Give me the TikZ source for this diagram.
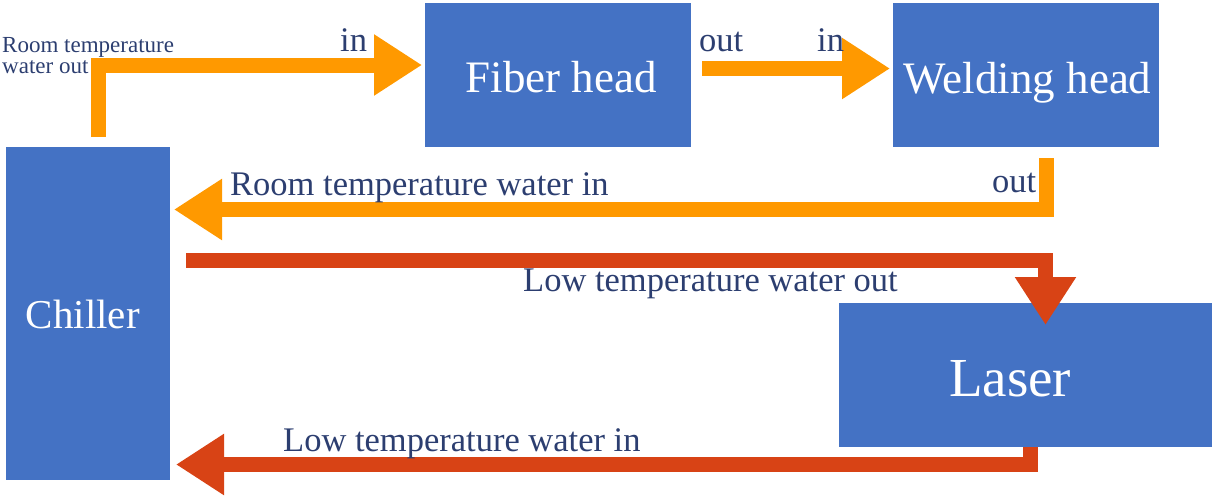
\documentclass[tikz,border=0pt]{standalone}
\usepackage{fontspec}
\setmainfont{Liberation Serif}
\usetikzlibrary{arrows.meta}
\definecolor{boxblue}{HTML}{4472C4}
\definecolor{pipeorange}{HTML}{FF9900}
\definecolor{pipered}{HTML}{D84315}
\definecolor{labelnavy}{HTML}{2C3E70}
\begin{document}
\begin{tikzpicture}[x=1pt,y=-1pt,
  unit/.style={fill=boxblue, text=white, inner sep=0pt, anchor=north west,
    text depth=0pt},
  pipe/.style={line width=15pt, line join=miter,
    -{Triangle[width=58pt,length=48pt]}},
  warm/.style={pipe, draw=pipeorange},
  cold/.style={pipe, draw=pipered},
  lbl/.style={text=labelnavy, inner sep=0pt, anchor=base west,
    font=\fontsize{34.5}{40}\selectfont}]
\useasboundingbox (0,0) rectangle (1218,496);

% units
\node[unit, minimum width=266pt, minimum height=144pt, text height=34.7pt,
  font=\fontsize{45}{50}\selectfont] (fiber) at (425,3)
  {\hspace*{6pt}Fiber head};
\node[unit, minimum width=266pt, minimum height=144pt, text height=36pt,
  font=\fontsize{45}{50}\selectfont] (weld) at (893,3)
  {\hspace*{3pt}Welding head};
\node[unit, minimum width=164pt, minimum height=333pt, text height=29pt,
  font=\fontsize{41}{46}\selectfont] (chiller) at (6,147)
  {Chiller\hspace*{11pt}};
\node[unit, minimum width=373pt, minimum height=144pt, text height=42pt,
  font=\fontsize{55}{60}\selectfont] (laser) at (839,303)
  {Laser\hspace*{31pt}};

% connector points
\coordinate (a1s) at (98.5,137);
\coordinate (a1c) at (98.5,65);
\coordinate (a1e) at (422,65);
\coordinate (a2s) at (702,68.5);
\coordinate (a2e) at (890,68.5);
\coordinate (a3s) at (1046,158);
\coordinate (a3c) at (1046,209.5);
\coordinate (a3e) at (174,209.5);
\coordinate (a4s) at (186,260.5);
\coordinate (a4c) at (1045.5,260.5);
\coordinate (a4e) at (1045.5,325);
\coordinate (a5s) at (1030,447);
\coordinate (a5c) at (1030,464.5);
\coordinate (a5e) at (176,464.5);

% pipes
\draw[warm] (a1s) -- (a1c) -- (a1e);
\draw[warm] (a2s) -- (a2e);
\draw[warm] (a3s) -- (a3c) -- (a3e);
\draw[cold] (a4s) -- (a4c) -- (a4e);
\draw[cold] (a5s) -- (a5c) -- (a5e);

% labels
\node[text=labelnavy, inner sep=0pt, anchor=north west, align=left,
  font=\fontsize{23}{21}\selectfont] (rtout) at (2,36.8)
  {Room temperature\\water out};
\node[lbl] (in1) at (340,51) {in};
\node[lbl] (out1) at (699,51) {out};
\node[lbl] (in2) at (817,51) {in};
\node[lbl] (rtin) at (230,195) {Room temperature water in};
\node[lbl] (out2) at (992,192) {out};
\node[lbl] (ltout) at (523,291) {Low temperature water out};
\node[lbl] (ltin) at (283,451) {Low temperature water in};
\end{tikzpicture}
\end{document}
